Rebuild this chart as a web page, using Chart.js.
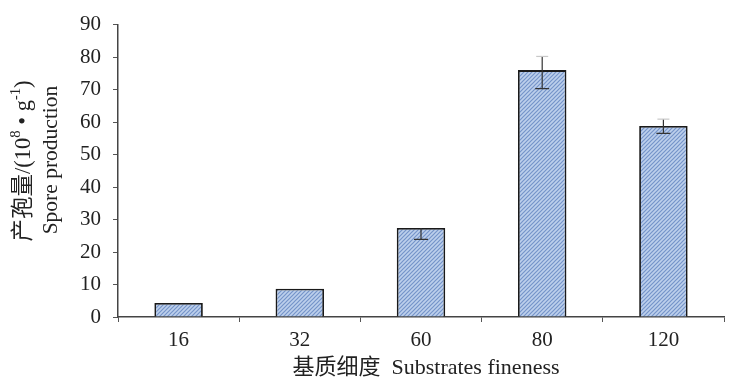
<!DOCTYPE html>
<html>
<head>
<meta charset="utf-8">
<script src="https://cdn.jsdelivr.net/npm/chart.js@4/dist/chart.umd.min.js"></script>
<style>
    html, body { margin: 0; padding: 0; background: #fff; }
    #wrap { width: 734px; height: 390px; position: relative; }
</style>
</head>
<body>
<div id="wrap"><canvas id="sporeChart"></canvas></div>
<script>
// Spore production by substrate fineness
const fineness = ['16', '32', '60', '80', '120'];
const sporeMeans = [4.3, 8.7, 27.4, 76.0, 58.8];
const errUp = [0, 0, 0, 4.2, 2.1];
const errDown = [0, 0, 3.5, 5.7, 2.3];
const yTicks = [0, 10, 20, 30, 40, 50, 60, 70, 80, 90];

const FONT = "'Liberation Serif', 'Noto Sans CJK SC', serif";
const INK = '#222';

// Diagonal hatch fill for the bars
function hatchPattern() {
    const c = document.createElement('canvas');
    c.width = 4;
    c.height = 4;
    const g = c.getContext('2d');
    g.fillStyle = '#bdd0ec';
    g.fillRect(0, 0, 4, 4);
    g.strokeStyle = '#7594c9';
    g.lineWidth = 1.2;
    g.beginPath();
    g.moveTo(-1, 5); g.lineTo(5, -1);
    g.moveTo(-1, 1); g.lineTo(1, -1);
    g.moveTo(3, 5); g.lineTo(5, 3);
    g.stroke();
    return g.createPattern(c, 'repeat');
}

// Error bars drawn over the bars
const errorBars = {
    id: 'errorBars',
    afterDatasetsDraw(chart) {
        const { ctx, scales: { x, y } } = chart;
        ctx.save();
        ctx.strokeStyle = '#333';
        ctx.lineWidth = 1.2;
        sporeMeans.forEach((v, i) => {
            const px = x.getPixelForValue(i);
            const top = y.getPixelForValue(v + errUp[i]);
            const bot = y.getPixelForValue(v - errDown[i]);
            const mid = y.getPixelForValue(v);
            if (errUp[i] > 0) {
                ctx.beginPath();
                ctx.moveTo(px, mid); ctx.lineTo(px, top);
                ctx.stroke();
                ctx.save();
                ctx.strokeStyle = '#c8c8c8';
                ctx.beginPath();
                ctx.moveTo(px - 6, top); ctx.lineTo(px + 6, top);
                ctx.stroke();
                ctx.restore();
            }
            if (errDown[i] > 0) {
                ctx.beginPath();
                ctx.moveTo(px, mid); ctx.lineTo(px, bot);
                ctx.moveTo(px - 7, bot); ctx.lineTo(px + 7, bot);
                ctx.stroke();
            }
        });
        ctx.restore();
    }
};

// Draw a run of [text, isSuperscript] pieces centred on the current origin
function drawRuns(ctx, runs, size) {
    let total = 0;
    runs.forEach(([t, sup]) => {
        ctx.font = (sup ? size * 0.65 : size) + 'px ' + FONT;
        total += ctx.measureText(t).width;
    });
    let x = -total / 2;
    runs.forEach(([t, sup]) => {
        ctx.font = (sup ? size * 0.65 : size) + 'px ' + FONT;
        ctx.fillText(t, x, sup ? -size * 0.36 : 0);
        x += ctx.measureText(t).width;
    });
}

// Axis titles, with proper superscripts on the unit
const axisTitles = {
    id: 'axisTitles',
    afterDraw(chart) {
        const { ctx, chartArea } = chart;
        ctx.save();
        ctx.fillStyle = INK;
        ctx.textBaseline = 'middle';
        ctx.textAlign = 'left';

        // y title, two rotated lines
        ctx.save();
        ctx.translate(24, 161);
        ctx.rotate(-Math.PI / 2);
        drawRuns(ctx, [['产孢量/(10', false], ['8', true], [' • g', false], ['-1', true], [')', false]], 22.5);
        ctx.restore();
        ctx.save();
        ctx.translate(51, 160);
        ctx.rotate(-Math.PI / 2);
        drawRuns(ctx, [['Spore production', false]], 21.5);
        ctx.restore();

        // x title
        ctx.save();
        ctx.translate((chartArea.left + chartArea.right) / 2 + 5, 368);
        drawRuns(ctx, [['基质细度  Substrates fineness', false]], 22);
        ctx.restore();

        ctx.restore();
    }
};

const ctx = document.getElementById('sporeChart').getContext('2d');
new Chart(ctx, {
    type: 'bar',
    data: {
        labels: fineness,
        datasets: [{
            data: sporeMeans,
            backgroundColor: hatchPattern(),
            borderColor: '#1a1a1a',
            borderWidth: 1.8,
            borderSkipped: 'bottom',
            categoryPercentage: 1,
            barPercentage: 0.4
        }]
    },
    options: {
        responsive: true,
        maintainAspectRatio: false,
        animation: false,
        layout: { padding: { left: 0, right: 10, top: 12, bottom: 0 } },
        plugins: {
            legend: { display: false },
            tooltip: { enabled: false }
        },
        scales: {
            x: {
                offset: true,
                grid: {
                    offset: true,
                    drawOnChartArea: false,
                    drawTicks: true,
                    tickLength: 5,
                    color: '#555',
                    lineWidth: 1
                },
                border: { color: '#444', width: 1.5 },
                ticks: {
                    color: INK,
                    padding: 6,
                    font: { family: FONT, size: 21 }
                },
                afterFit(scale) { scale.height = 73; }
            },
            y: {
                min: 0,
                max: 90,
                afterBuildTicks(scale) {
                    scale.ticks = yTicks.map(v => ({ value: v }));
                },
                grid: {
                    drawOnChartArea: false,
                    drawTicks: true,
                    tickLength: 5,
                    color: '#555'
                },
                border: { color: '#444', width: 1.5 },
                ticks: {
                    color: INK,
                    padding: 12,
                    font: { family: FONT, size: 21 }
                },
                afterFit(scale) { scale.width = 118; }
            }
        }
    },
    plugins: [errorBars, axisTitles]
});
</script>
</body>
</html>
